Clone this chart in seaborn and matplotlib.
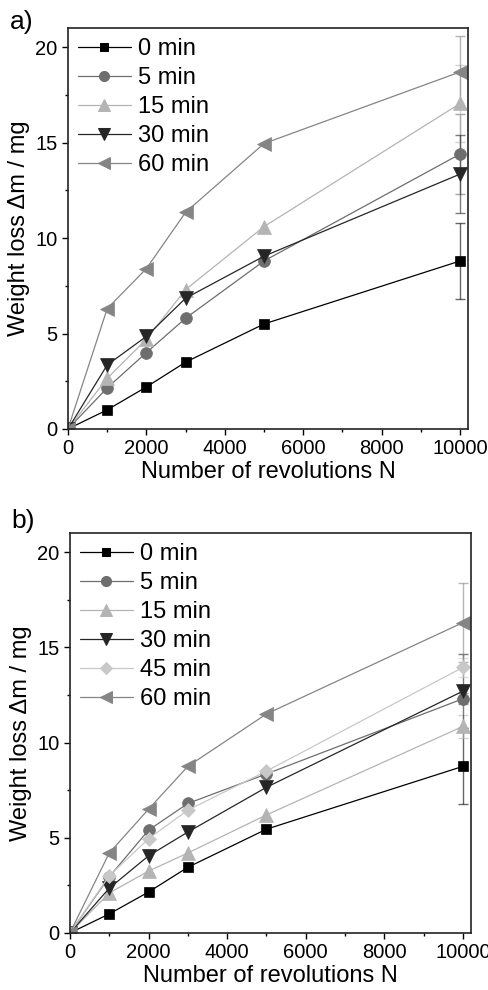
import numpy as np
import pandas as pd
import matplotlib.pyplot as plt
import seaborn as sns
from matplotlib.ticker import MultipleLocator

revolutions = [0, 1000, 2000, 3000, 5000, 10000]

# panel a) weight loss in mg
a_times = ["0 min", "5 min", "15 min", "30 min", "60 min"]
a_values = {
    "0 min": [0, 1.0, 2.2, 3.5, 5.5, 8.8],
    "5 min": [0, 2.15, 4.0, 5.8, 8.8, 14.4],
    "15 min": [0, 2.65, 4.7, 7.3, 10.6, 17.05],
    "30 min": [0, 3.35, 4.85, 6.85, 9.05, 13.35],
    "60 min": [0, 6.3, 8.4, 11.35, 14.95, 18.7],
}
a_err = {"0 min": 2.0, "5 min": 2.1, "15 min": 2.0, "30 min": 2.05, "60 min": 1.9}

# panel b)
b_times = ["0 min", "5 min", "15 min", "30 min", "45 min", "60 min"]
b_values = {
    "0 min": [0, 1.0, 2.15, 3.45, 5.45, 8.75],
    "5 min": [0, 2.95, 5.4, 6.8, 8.35, 12.3],
    "15 min": [0, 2.1, 3.25, 4.2, 6.2, 10.85],
    "30 min": [0, 2.35, 4.05, 5.3, 7.65, 12.7],
    "45 min": [0, 3.0, 4.95, 6.45, 8.5, 13.95],
    "60 min": [0, 4.2, 6.5, 8.75, 11.5, 16.3],
}
b_err = {"0 min": 2.0, "5 min": 0.3, "15 min": 0.6, "30 min": 1.95, "45 min": 0.5, "60 min": 2.05}

colors = {"0 min": "#000000", "5 min": "#6e6e6e", "15 min": "#b4b4b4",
          "30 min": "#262626", "45 min": "#c8c8c8", "60 min": "#858585"}
markers = {"0 min": "s", "5 min": "o", "15 min": "^", "30 min": "v",
           "45 min": "D", "60 min": "<"}
msizes = {"0 min": 7.5, "5 min": 8.5, "15 min": 9.5, "30 min": 9.5,
          "45 min": 7.5, "60 min": 9.5}


def to_long(times, values):
    rows = []
    for t in times:
        for n, v in zip(revolutions, values[t]):
            rows.append({"N": n, "dm": v, "t": t})
    return pd.DataFrame(rows)


def draw_panel(ax, times, values, errs, tag, tag_y):
    df = to_long(times, values)
    sns.lineplot(data=df, x="N", y="dm", hue="t", style="t", hue_order=times,
                 style_order=times, palette=colors, markers=markers, dashes=False,
                 linewidth=0.9, ax=ax, legend=True)
    for line, t in zip(ax.lines[:len(times)], times):
        line.set_markeredgecolor(line.get_color())
        line.set_markeredgewidth(0.5)
        line.set_markersize(msizes[t])
    for t in times:
        ax.errorbar(revolutions[-1], values[t][-1], yerr=errs[t], fmt="none",
                    ecolor=colors[t], alpha=0.6, elinewidth=1.0, capsize=3.6,
                    capthick=1.0, zorder=1)
    handles, labels = ax.get_legend_handles_labels()
    for h, l in zip(handles, labels):
        if l in msizes:
            h.set_markeredgecolor(h.get_color())
            h.set_markersize(msizes[l] * 0.85)
    ax.legend(handles, labels, loc="upper left", bbox_to_anchor=(0.0, 1.0),
              frameon=False, fontsize=17, handlelength=2.25, handletextpad=0.3,
              labelspacing=0.3, borderaxespad=0.1, borderpad=0.32)
    ax.set_xlim(0, 10200)
    ax.set_ylim(0, 21)
    ax.set_xticks([0, 2000, 4000, 6000, 8000, 10000])
    ax.set_yticks([0, 5, 10, 15, 20])
    ax.xaxis.set_minor_locator(MultipleLocator(1000))
    ax.yaxis.set_minor_locator(MultipleLocator(2.5))
    ax.tick_params(which="both", direction="out", labelsize=14.5, width=1.0,
                   top=False, right=False, colors="black")
    ax.tick_params(which="major", length=4)
    ax.tick_params(which="minor", length=2.5)
    ax.set_xlabel("Number of revolutions N", fontsize=17, labelpad=2)
    ax.set_ylabel("Weight loss \u0394m / mg", fontsize=17, labelpad=4)
    for s in ax.spines.values():
        s.set_linewidth(1.2)
        s.set_color("#222222")
    ax.text(-0.145, tag_y, tag, transform=ax.transAxes, fontsize=19,
            va="top", ha="left")


sns.set_style("ticks")
plt.rcParams["font.family"] = ["Liberation Sans", "DejaVu Sans"]
plt.rcParams["text.color"] = "black"
plt.rcParams["axes.labelcolor"] = "black"

fig = plt.figure(figsize=(4.89, 9.90), dpi=100)
ax_a = fig.add_axes([0.139, 0.5667, 0.818, 0.405])
ax_b = fig.add_axes([0.143, 0.0576, 0.820, 0.404])

draw_panel(ax_a, a_times, a_values, a_err, "a)", 1.045)
draw_panel(ax_b, b_times, b_values, b_err, "b)", 1.06)

fig.savefig("out.png", dpi=100)
